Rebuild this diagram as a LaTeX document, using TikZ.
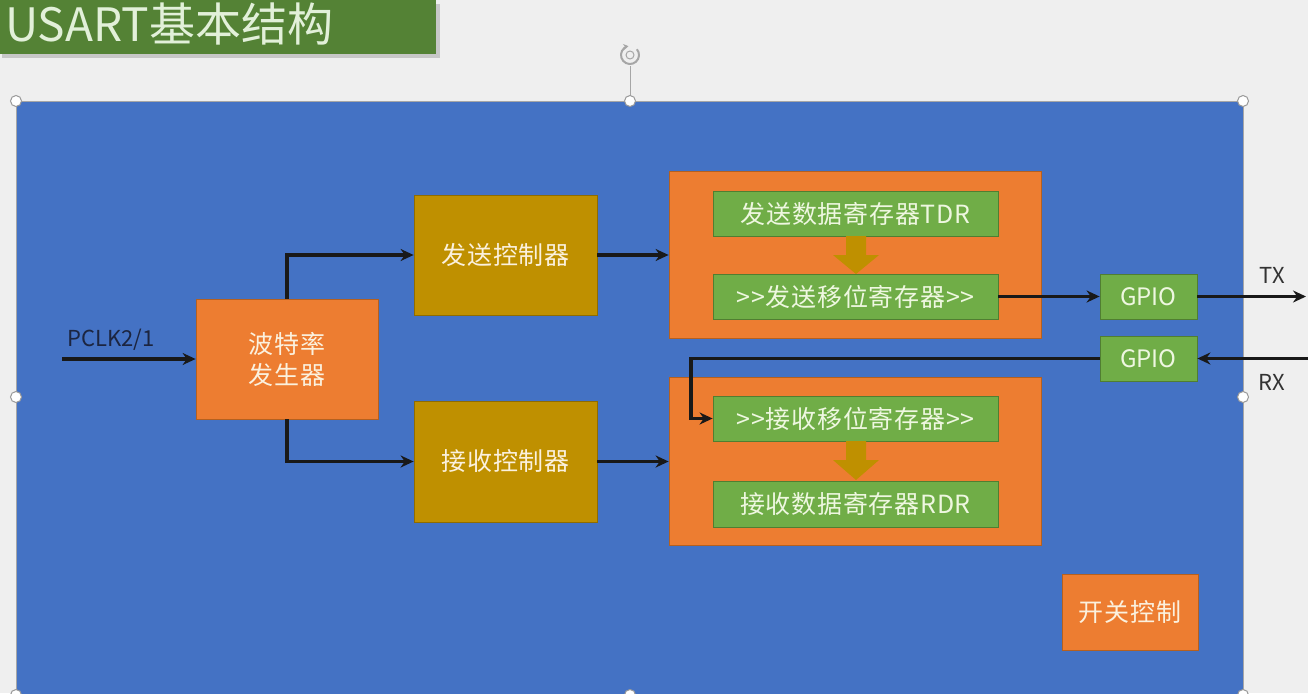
\documentclass[tikz,border=0pt]{standalone}
\usepackage{fontspec}
\setmainfont{Noto Sans CJK SC}
\usetikzlibrary{arrows.meta}
\definecolor{bgc}{HTML}{EFEFEF}
\definecolor{titlegreen}{HTML}{548235}
\definecolor{titletext}{HTML}{E2F0D9}
\definecolor{panel}{HTML}{4472C4}
\definecolor{orangec}{HTML}{ED7D31}
\definecolor{orangeb}{HTML}{B5601F}
\definecolor{goldc}{HTML}{BF9000}
\definecolor{goldb}{HTML}{8F6C00}
\definecolor{greenc}{HTML}{70AD47}
\definecolor{greenb}{HTML}{507E31}
\definecolor{boxtext}{HTML}{FBF1DE}
\definecolor{greentext}{HTML}{EEF7E0}
\definecolor{navytext}{HTML}{1C2540}
\tikzset{
  x=1pt, y=-1pt,
  basebox/.style={inner sep=0pt, line width=0.8pt, align=center,
    font=\fontsize{25}{31}\selectfont\addfontfeature{LetterSpace=3}},
  obox/.style={basebox, fill=orangec, draw=orangeb, text=boxtext},
  gbox/.style={basebox, fill=goldc, draw=goldb, text=boxtext},
  grbox/.style={basebox, fill=greenc, draw=greenb, text=greentext},
  container/.style={inner sep=0pt, fill=orangec, draw=orangeb, line width=0.8pt},
  conn/.style={line width=3.5pt, draw=black!90, -{Stealth[length=13pt,width=12pt]}},
  handle/.style={circle, fill=white, draw=gray!80, line width=1pt, inner sep=0pt, minimum size=11pt},
  outlabel/.style={font=\fontsize{22}{26}\selectfont, text=black!80},
}
\begin{document}
\begin{tikzpicture}
% background
\fill[bgc] (0,0) rectangle (1308,693);
\useasboundingbox (0,0) rectangle (1308,693);
% title
\fill[black!22] (2,4) rectangle (440,58);
\node[fill=titlegreen, minimum width=436pt, minimum height=54pt, inner sep=0pt, anchor=north west] (titlebar) at (0,0) {};
\node[anchor=west, text=titletext, font=\fontsize{46}{50}\selectfont, inner sep=0pt] (title) at (5,24) {USART基本结构};
% main panel
\fill[panel] (16,101) rectangle (1243,700);
\draw[gray!70, line width=0.6pt] (16,101) rectangle (1243,700);
% rotation handle
\draw[gray!70, line width=1pt] (630,101) -- (630,66);
\draw[gray!70, line width=2pt, -{Stealth[length=5pt,width=6pt]}] (630,55) ++(40:9pt) arc[start angle=40, end angle=-260, radius=9pt];
\draw[gray!70, line width=1pt] (630,55) circle[radius=4pt];

% containers
\node[container, minimum width=372pt, minimum height=167pt] (txcont) at (855,254.5) {};
\node[container, minimum width=372pt, minimum height=168pt] (rxcont) at (855,461) {};

% boxes
\node[obox, minimum width=182pt, minimum height=120pt] (baud) at (287,359) {波特率\\发生器};
\node[gbox, minimum width=183pt, minimum height=120pt] (txc) at (505.5,255) {发送控制器};
\node[gbox, minimum width=183pt, minimum height=121pt] (rxc) at (505.5,461.5) {接收控制器};
\node[grbox, minimum width=285pt, minimum height=45pt] (tdr) at (855.5,213.5) {发送数据寄存器TDR};
\node[grbox, minimum width=285pt, minimum height=45pt] (txs) at (855.5,296.5) {>{}>发送移位寄存器>{}>};
\node[grbox, minimum width=285pt, minimum height=45pt] (rxs) at (855.5,418.5) {>{}>接收移位寄存器>{}>};
\node[grbox, minimum width=285pt, minimum height=46pt] (rdr) at (855.5,504) {接收数据寄存器RDR};
\node[grbox, minimum width=97pt, minimum height=45pt, font=\fontsize{24}{28}\selectfont] (gpiot) at (1148.5,296.5) {GPIO};
\node[grbox, minimum width=97pt, minimum height=45pt, font=\fontsize{24}{28}\selectfont] (gpior) at (1148.5,358.5) {GPIO};
\node[obox, minimum width=136pt, minimum height=76pt] (sw) at (1130,612) {开关控制};

% gold down arrows
\fill[goldc] (846,236) -- (866,236) -- (866,255) -- (879,255) -- (856,274) -- (833,255) -- (846,255) -- cycle;
\fill[goldc] (846,441) -- (866,441) -- (866,460) -- (879,460) -- (856,480) -- (833,460) -- (846,460) -- cycle;

% connectors
\coordinate (pclk) at (62,359);
\coordinate (txout) at (1306,296.5);
\coordinate (rxin) at (1308,358.5);
\coordinate (bend) at (691,418.5);
\node[anchor=south west, inner sep=0pt, text=navytext, font=\fontsize{22}{26}\selectfont] (pclklabel) at (67,351) {PCLK2/1};
\draw[conn] (pclk) -- (baud.west);
\draw[conn] (baud.north) |- (txc.west);
\draw[conn] (baud.south) |- (rxc.west);
\draw[conn] (txc.east) -- (txcont.west |- txc.east);
\draw[conn] (rxc.east) -- (rxcont.west |- rxc.east);
\draw[conn] (txs.east) -- (gpiot.west);
\draw[conn] (gpiot.east) -- (txout);
\draw[conn] (rxin) -- (gpior.east);
\draw[conn] (gpior.west) -| (bend) -- (rxs.west);
\node[outlabel] (txlabel) at (1272,275) {TX};
\node[outlabel] (rxlabel) at (1272,382) {RX};

% selection handles
\node[handle] (h1) at (16,101) {};
\node[handle] (h2) at (630,101) {};
\node[handle] (h3) at (1243,101) {};
\node[handle] (h4) at (16,397) {};
\node[handle] (h5) at (1243,397) {};
\node[handle] (h6) at (630,695) {};
\node[handle] (h7) at (16,695) {};
\node[handle] (h8) at (1243,695) {};
\end{tikzpicture}
\end{document}
